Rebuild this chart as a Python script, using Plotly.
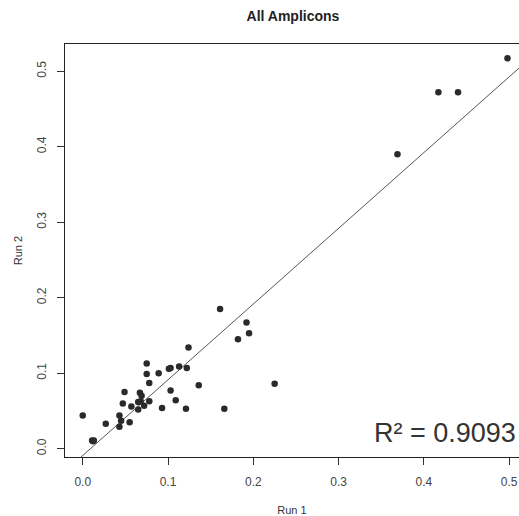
import plotly.graph_objects as go

run1 = [0.000, 0.011, 0.013, 0.012, 0.027, 0.043, 0.043, 0.045, 0.047, 0.049,
        0.055, 0.057, 0.065, 0.065, 0.067, 0.069, 0.068, 0.072, 0.075, 0.075,
        0.078, 0.078, 0.089, 0.093, 0.101, 0.103, 0.103, 0.109, 0.113, 0.121,
        0.122, 0.124, 0.136, 0.161, 0.166, 0.182, 0.192, 0.195, 0.225, 0.369,
        0.417, 0.440, 0.498]
run2 = [0.044, 0.011, 0.011, 0.010, 0.033, 0.044, 0.029, 0.037, 0.060, 0.075,
        0.035, 0.056, 0.052, 0.062, 0.074, 0.070, 0.063, 0.057, 0.113, 0.099,
        0.087, 0.063, 0.100, 0.054, 0.106, 0.107, 0.077, 0.064, 0.109, 0.053,
        0.107, 0.134, 0.084, 0.185, 0.053, 0.145, 0.167, 0.153, 0.086, 0.390,
        0.472, 0.472, 0.517]

fit_slope = 1.003
fit_intercept = -0.009
r_squared_label = "R² = 0.9093"

tick_vals = [0.0, 0.1, 0.2, 0.3, 0.4, 0.5]
tick_text = ["0.0", "0.1", "0.2", "0.3", "0.4", "0.5"]

x_range = [-0.0208, 0.5115]
y_range = [-0.011, 0.536]

line_x = [x_range[0], x_range[1]]
line_y = [fit_intercept + fit_slope * v for v in line_x]

fig = go.Figure()
fig.add_trace(go.Scatter(
    x=line_x, y=line_y, mode="lines",
    line=dict(color="#555555", width=1),
    hoverinfo="skip", showlegend=False, cliponaxis=True,
))
fig.add_trace(go.Scatter(
    x=run1, y=run2, mode="markers",
    marker=dict(color="#2a2a2a", size=6.5, line=dict(width=0)),
    showlegend=False,
))

font_family = "Liberation Sans, Arial, sans-serif"

fig.update_layout(
    width=519, height=516,
    margin=dict(l=65, r=0, t=44, b=59),
    paper_bgcolor="white", plot_bgcolor="white",
    font=dict(family=font_family, color="#333333", size=12),
    title=dict(text="<b>All Amplicons</b>", x=0.5645, xanchor="center",
               y=0.969, yanchor="middle",
               font=dict(family=font_family, size=14, color="#222222")),
    showlegend=False,
)
fig.update_xaxes(
    range=x_range, tickvals=tick_vals, ticktext=tick_text,
    automargin=False,
    showgrid=False, zeroline=False,
    showline=True, linecolor="#222222", linewidth=1.2, mirror=True,
    ticks="outside", ticklen=7, tickcolor="#333333", tickwidth=1,
    ticklabelstandoff=6,
    tickfont=dict(size=12, color="#444444"),
    title=dict(text="Run 1", font=dict(size=11, color="#333333"), standoff=18),
)
fig.update_yaxes(
    range=y_range, tickvals=tick_vals, ticktext=tick_text, tickangle=-90,
    automargin=False,
    showgrid=False, zeroline=False,
    showline=True, linecolor="#222222", linewidth=1.2, mirror=False,
    ticks="outside", ticklen=7, tickcolor="#333333", tickwidth=1,
    ticklabelstandoff=6,
    tickfont=dict(size=12, color="#444444"),
    title=dict(text="Run 2", font=dict(size=11, color="#333333"), standoff=10),
)
fig.add_annotation(
    text=r_squared_label, xref="paper", yref="paper",
    x=0.998, y=0.016, xanchor="right", yanchor="bottom", showarrow=False,
    font=dict(family=font_family, size=27, color="#333333"),
)

fig.write_html(
    "out.html",
    config={"displayModeBar": False},
    post_script="document.body.style.margin='0px';document.body.style.overflow='hidden';",
)
